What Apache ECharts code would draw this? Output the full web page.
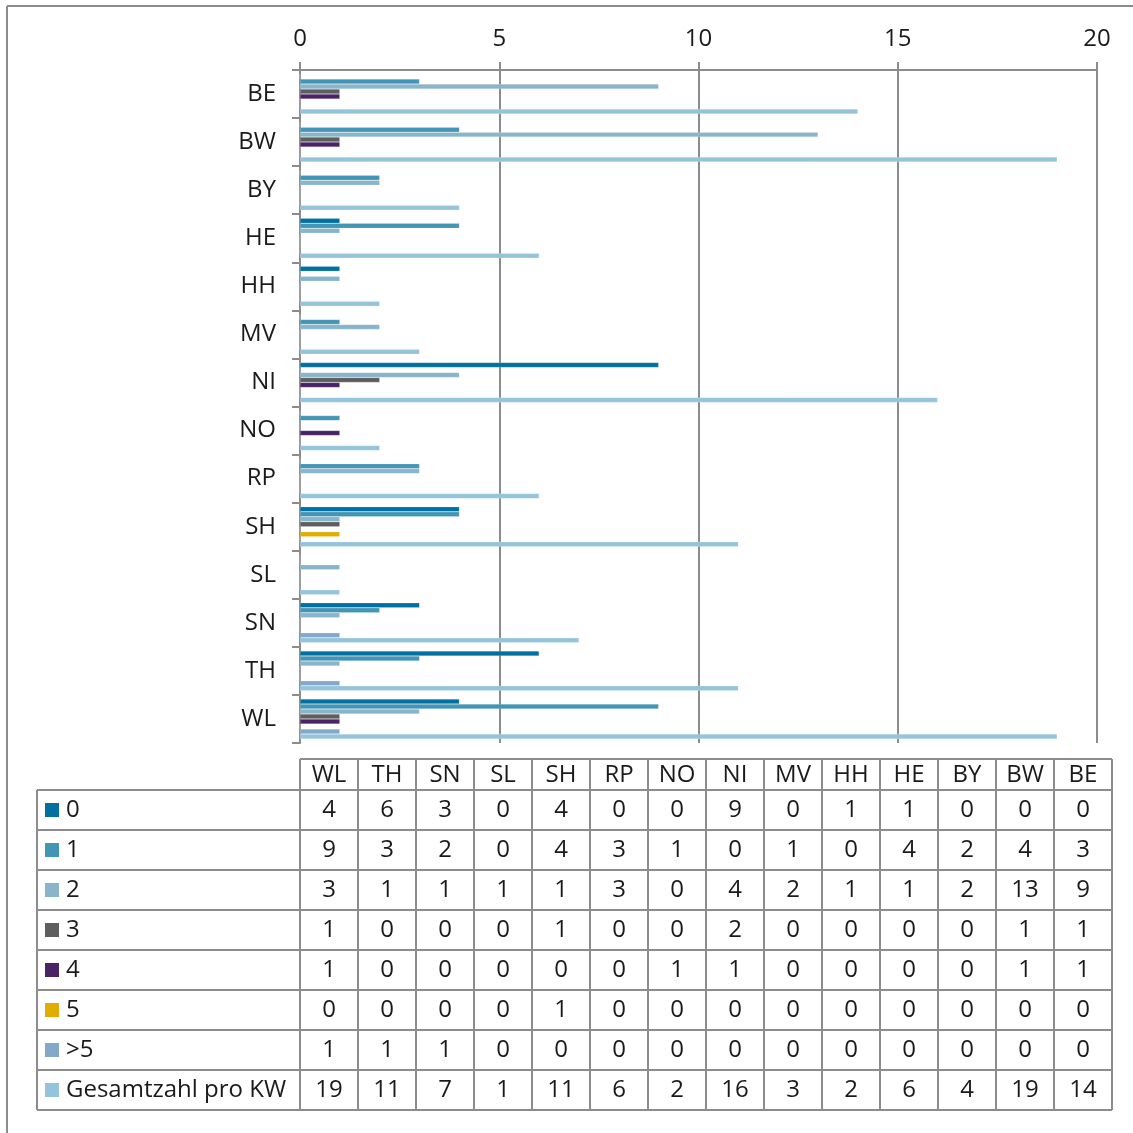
<!DOCTYPE html>
<html>
<head>
<meta charset="utf-8">
<script src="https://cdn.jsdelivr.net/npm/echarts@6/dist/echarts.min.js"></script>
<style>
html,body{margin:0;padding:0;background:#fff;}
#main{width:1133px;height:1133px;}
</style>
</head>
<body>
<div id="main"></div>
<script>
// Categories (first = bottom of chart, first column of table)
var categories = ['WL','TH','SN','SL','SH','RP','NO','NI','MV','HH','HE','BY','BW','BE'];
var seriesNames = ['0','1','2','3','4','5','>5','Gesamtzahl pro KW'];
var s0 = [4,6,3,0,4,0,0,9,0,1,1,0,0,0];
var s1 = [9,3,2,0,4,3,1,0,1,0,4,2,4,3];
var s2 = [3,1,1,1,1,3,0,4,2,1,1,2,13,9];
var s3 = [1,0,0,0,1,0,0,2,0,0,0,0,1,1];
var s4 = [1,0,0,0,0,0,1,1,0,0,0,0,1,1];
var s5 = [0,0,0,0,1,0,0,0,0,0,0,0,0,0];
var sGt5 = [1,1,1,0,0,0,0,0,0,0,0,0,0,0];
var sTotal = [19,11,7,1,11,6,2,16,3,2,6,4,19,14];
var xTicks = [0,5,10,15,20];

var seriesData = [s0,s1,s2,s3,s4,s5,sGt5,sTotal];
var colors = ['#0070a0','#4395b6','#88b5ca','#5e5e5e','#4a2266','#e0ad00','#84a8c9','#93c4dc'];

var FONT = '"Open Sans", "Noto Sans", sans-serif';
var GRID_LEFT = 300, GRID_RIGHT_X = 1097, GRID_TOP = 70, GRID_BOTTOM_Y = 743;
var LINE = '#8c8c8c';

var chart = echarts.init(document.getElementById('main'));

var series = seriesNames.map(function(n, i){
  return {
    name: n, type: 'bar',
    data: seriesData[i],
    barGap: '0%', barCategoryGap: '17%',
    itemStyle: {color: colors[i], borderColor: 'rgba(255,255,255,0.35)', borderWidth: 0.5},
    silent: true, animation: false
  };
});

// Table graphics
var g = [];
// outer frame
g.push({type:'line', shape:{x1:7,y1:6,x2:1133,y2:6}, style:{stroke:LINE, lineWidth:2}});
g.push({type:'line', shape:{x1:7,y1:6,x2:7,y2:1133}, style:{stroke:LINE, lineWidth:2}});

var TL = 300, COLW = 58, HEAD_TOP = 759, ROW_TOP = 790, ROWH = 40, LEFT_X = 37;
var nCols = categories.length, nRows = seriesNames.length;
var tableRight = TL + COLW * nCols;
var tableBottom = ROW_TOP + ROWH * nRows;
// horizontal lines
g.push({type:'line', shape:{x1:TL,y1:HEAD_TOP,x2:tableRight,y2:HEAD_TOP}, style:{stroke:LINE, lineWidth:2}});
for (var r = 0; r <= nRows; r++) {
  var yy = ROW_TOP + ROWH * r;
  g.push({type:'line', shape:{x1:LEFT_X,y1:yy,x2:tableRight,y2:yy}, style:{stroke:LINE, lineWidth:2}});
}
// vertical lines
g.push({type:'line', shape:{x1:LEFT_X,y1:ROW_TOP,x2:LEFT_X,y2:tableBottom}, style:{stroke:LINE, lineWidth:2}});
for (var c = 0; c <= nCols; c++) {
  var xx = TL + COLW * c;
  g.push({type:'line', shape:{x1:xx,y1:HEAD_TOP,x2:xx,y2:tableBottom}, style:{stroke:LINE, lineWidth:2}});
}
// header texts
categories.forEach(function(cat, j){
  g.push({type:'text', x: TL + COLW*j + COLW/2, y: (HEAD_TOP+ROW_TOP)/2 + 1,
    style:{text:cat, fill:'#1a1a1a', font:'24px '+FONT, align:'center', verticalAlign:'middle'}});
});
// rows
seriesNames.forEach(function(n, i){
  var cy = ROW_TOP + ROWH*i + ROWH/2;
  g.push({type:'rect', shape:{x:45, y:cy-7, width:14, height:14}, style:{fill:colors[i]}});
  g.push({type:'text', x:66, y:cy, style:{text:n, fill:'#1a1a1a', font:'24px '+FONT, align:'left', verticalAlign:'middle'}});
  seriesData[i].forEach(function(v, j){
    g.push({type:'text', x: TL + COLW*j + COLW/2, y: cy,
      style:{text:String(v), fill:'#1a1a1a', font:'24px '+FONT, align:'center', verticalAlign:'middle'}});
  });
});

chart.setOption({
  animation: false,
  backgroundColor: '#fff',
  textStyle: {fontFamily: FONT},
  grid: {left: GRID_LEFT, right: 1133 - GRID_RIGHT_X, top: GRID_TOP, bottom: 1133 - GRID_BOTTOM_Y, containLabel: false},
  xAxis: {
    type: 'value', position: 'top', min: xTicks[0], max: xTicks[xTicks.length-1], interval: 5,
    axisLine: {show: true, lineStyle: {color: LINE, width: 2}},
    axisTick: {show: true, length: 8, lineStyle: {color: LINE, width: 2}},
    splitLine: {show: true, lineStyle: {color: LINE, width: 2}},
    axisLabel: {color: '#1a1a1a', fontSize: 24, margin: 19, fontFamily: FONT}
  },
  yAxis: {
    type: 'category', data: categories,
    axisLine: {show: true, lineStyle: {color: LINE, width: 2}},
    axisTick: {show: true, length: 8, lineStyle: {color: LINE, width: 2}},
    axisLabel: {color: '#1a1a1a', fontSize: 24, margin: 24, fontFamily: FONT}
  },
  series: series,
  graphic: g
});
</script>
</body>
</html>
